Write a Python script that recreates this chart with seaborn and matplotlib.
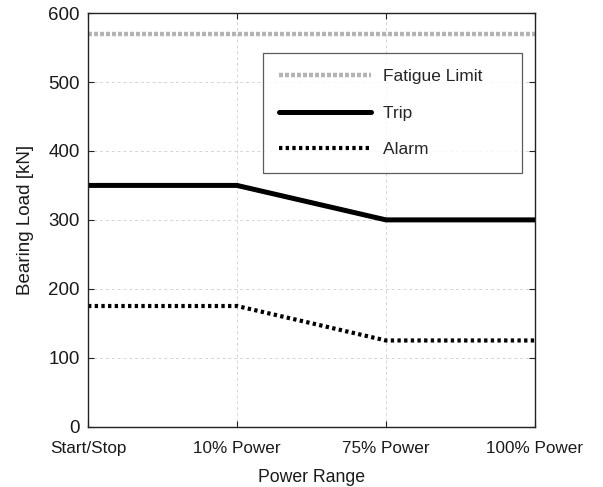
import matplotlib
matplotlib.use("Agg")
import matplotlib.pyplot as plt
import seaborn as sns
import pandas as pd

categories = ["Start/Stop", "10% Power", "75% Power", "100% Power"]
fatigue = [570, 570, 570, 570]
trip = [350, 350, 300, 300]
alarm = [175, 175, 125, 125]
yticks = [0, 100, 200, 300, 400, 500, 600]

sns.set_style("white")
plt.rcParams['font.family'] = ['Liberation Sans', 'DejaVu Sans']

fig = plt.figure(figsize=(6.03, 4.87), dpi=100)
ax = fig.add_axes([0.146, 0.124, 0.741, 0.849])

x = list(range(len(categories)))
df = pd.DataFrame({"x": x, "Fatigue Limit": fatigue, "Trip": trip, "Alarm": alarm})

sns.lineplot(data=df, x="x", y="Fatigue Limit", ax=ax, color="#b4b4b4", lw=3.2,
             label="Fatigue Limit", linestyle=(0, (0.9, 0.45)))
sns.lineplot(data=df, x="x", y="Trip", ax=ax, color="black", lw=3.6, label="Trip")
sns.lineplot(data=df, x="x", y="Alarm", ax=ax, color="black", lw=3, label="Alarm",
             linestyle=(0, (0.8, 0.8)))

ax.set_xlim(0, 3)
ax.set_ylim(0, 600)
ax.set_xticks(x)
ax.set_xticklabels(categories)
ax.set_yticks(yticks)
ax.grid(True, color="#d4d4d4", linestyle=(0, (3, 3)), linewidth=0.7)
for s in ax.spines.values():
    s.set_visible(True)
    s.set_color("#222222")
    s.set_linewidth(1.0)
ax.tick_params(direction="in", length=4, width=0.8, top=True, right=True,
               bottom=True, left=True, colors="#222222")
ax.tick_params(axis="y", labelsize=13.5, pad=6)
ax.tick_params(axis="x", labelsize=12.3, pad=10)
for t in ax.get_xticklabels() + ax.get_yticklabels():
    t.set_color("#1a1a1a")
ax.set_xlabel("Power Range", fontsize=12.7, labelpad=10, color="#1a1a1a")
ax.set_ylabel("Bearing Load [kN]", fontsize=13.5, labelpad=10, color="#1a1a1a")

leg = ax.legend(loc="upper left", bbox_to_anchor=(0.392, 0.903), fontsize=12.5,
                frameon=True, fancybox=False, edgecolor="#333333",
                handlelength=5.3, handletextpad=0.7, labelspacing=1.24,
                borderpad=0.9, borderaxespad=0)
leg.get_frame().set_linewidth(0.9)
for t in leg.get_texts():
    t.set_text(t.get_text() + "     ")

fig.savefig("out.png", dpi=100)
